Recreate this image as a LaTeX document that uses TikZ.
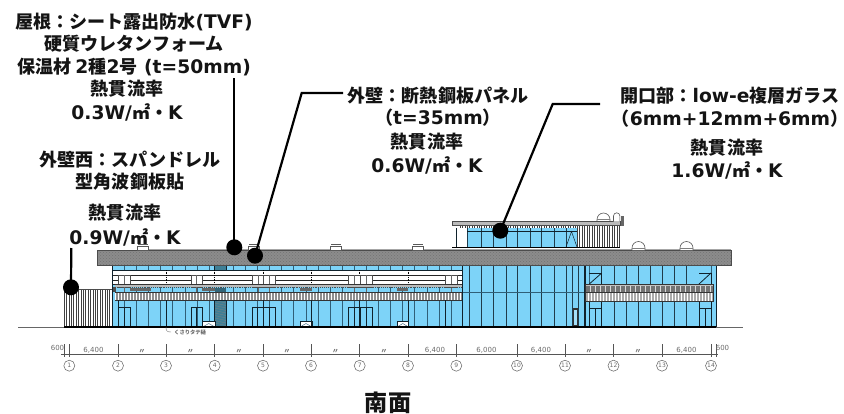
\documentclass[tikz,border=0pt]{standalone}
\usepackage{fontspec}
\usetikzlibrary{patterns}
\setmainfont{DejaVu Sans}
\newfontfamily\cjk[Scale=0.965]{Noto Sans CJK JP}
\newcommand{\J}[1]{{\cjk\bfseries #1}}
\newcommand{\Jcolon}{\char"FF1A\relax}
\newcommand{\Jlp}{\char"FF08\relax}
\newcommand{\Jrp}{\char"FF09\relax}
\definecolor{glass}{HTML}{7DD3F8}
\definecolor{roofgray}{HTML}{8C8C8C}
\definecolor{teal}{HTML}{3E7F96}
\definecolor{frame}{HTML}{10222C}
\definecolor{thinm}{HTML}{2F5F78}
\definecolor{railgray}{HTML}{8E8E8E}
\definecolor{dimgray}{HTML}{6A6A6A}
\tikzset{
 x=1pt,y=-1pt,
 lab/.style={font=\fontsize{18.7}{20}\selectfont\bfseries,inner sep=0pt,anchor=center,text=black!92},
 dotn/.style={circle,fill=black,draw=none,minimum size=16pt,inner sep=0pt},
 leader/.style={line width=2.2pt,black},
 mull/.style={line width=.7pt,thinm},
 heavy/.style={line width=1pt,frame},
 hatchl/.style={line width=.45pt,black!75},
 dimt/.style={font=\fontsize{7}{8}\selectfont,text=dimgray,inner sep=0pt},
 gridc/.style={circle,draw=dimgray,line width=.55pt,minimum size=11pt,inner sep=0pt,font=\fontsize{6}{7}\selectfont,text=dimgray},
 dimline/.style={line width=.6pt,dimgray!80!black},
}
\begin{document}
\begin{tikzpicture}
\useasboundingbox (0,0) rectangle (844,413);
% ground
\draw[line width=.6pt,black!60] (18,327.3) -- (743,327.3);
% west hatched wall
\fill[white] (64,289.5) rectangle (112,327);
\draw[line width=.5pt,black!70] (64,289.5) -- (112,289.5);
\foreach \x in {64,66.4,...,112} \draw[hatchl] (\x,289.5) -- (\x,327);
% main body glass
\fill[glass] (112.3,265) rectangle (716,327);
% left section upper white zone
\fill[white] (112.3,270) rectangle (462,285);
\foreach \y in {270,275,280,284.5} \draw[line width=.6pt,black!85] (112.3,\y) -- (462,\y);
\foreach \x in {112.3,124.4,...,462} \draw[mull] (\x,265) -- (\x,270);
\foreach \x in {112.3,124.4,...,462} \draw[mull] (\x,287) -- (\x,292);
\foreach \x in {112.3,124.4,...,462} \draw[mull] (\x,300) -- (\x,327);
\draw[heavy] (112.3,265.6) -- (462,265.6);
\draw[heavy] (112.3,270) -- (462,270);
\fill[teal] (214.7,265) rectangle (226,270);
\draw[line width=.5pt,frame] (214.7,265) rectangle (226,270);
\foreach \x in {166,214.7,263,311,359.7,408} \draw[line width=.7pt,black,densely dotted] (\x,270) -- (\x,285);
% windows in upper zone
\foreach \a/\b in {118/130,191/202,252/263.5,263.5/275,348/360,360/372,445/457}{
  \fill[white] (\a,275) rectangle (\b,287);
  \draw[line width=.5pt,black!70] (\a,275) rectangle (\b,287);
  \draw[line width=.4pt,black!60] ({(\a+\b)/2},275) -- ({(\a+\b)/2},292);
}
% left balcony
\fill[railgray!60] (115,284.5) rectangle (462,287);
\draw[line width=.5pt,black!80] (115,284.5) -- (462,284.5);
\draw[line width=.9pt,black!70,densely dotted] (115,287) -- (462,287);
\foreach \a/\b in {130/151,202/215,300/312,397/408}{\fill[black!60] (\a,288) rectangle (\b,291);}
\fill[teal!80!black] (214.7,288) rectangle (226,292);
\fill[black!70] (112.3,287) rectangle (116,292);
\fill[railgray] (115,292) rectangle (462,300);
\foreach \x in {115,118,...,462} \draw[line width=.45pt,white] (\x,292.5) -- (\x,299.5);
\draw[line width=.6pt,black!80] (115,292) -- (462,292);
\draw[line width=.7pt,black!80] (115,300) -- (462,300);
% teal panel
\fill[teal] (214.7,300.2) rectangle (226,327);
\foreach \k in {0,2.5,...,25} \draw[line width=.35pt,black!50] (214.7,300.5+\k) -- (226,303+\k);
\draw[line width=.6pt,frame] (214.7,300) rectangle (226,327);
% doors left
\foreach \a/\b in {118/130,191/202,252/263.5,263.5/275,348/360,360/372}{
  \draw[line width=.9pt,frame] (\a,307) -- (\b,307);
  \draw[line width=.9pt,frame] (\a,307) -- (\a,327);
  \draw[line width=.9pt,frame] (\b,307) -- (\b,327);
  \draw[line width=.9pt,frame] ({(\a+\b)/2},307) -- ({(\a+\b)/2},327);
}
% low openings
\foreach \a/\b in {202.5/215,300/312,397/408.5,469/481,554/566}{
  \fill[white] (\a,321.5) rectangle (\b,327);
  \draw[line width=.9pt,frame] (\a,327) -- (\a,321.5) -- (\b,321.5) -- (\b,327);
  \draw[line width=.4pt,thinm] (\a,327) -- ({(\a+\b)/2},323.5) -- (\b,327);
}
\foreach \x in {112.3,118,166,226,263,311,359.7,408,445} \draw[line width=.9pt,frame] (\x,300) -- (\x,327);
\draw[line width=.9pt,frame] (112.3,265) -- (112.3,327);
% central section
\fill[glass] (462,265) rectangle (585,327);
\foreach \x in {469,481,493.3,506,517.7,530,541.7,554,566,572.7,578.3}{ \draw[line width=.8pt,frame!85!glass] (\x,265) -- (\x,327);}
\draw[line width=.5pt,thinm] (462,292.5) -- (585,292.5);
\draw[line width=1.1pt,frame] (462.3,265) -- (462.3,327);
\draw[line width=1.1pt,frame] (585,265) -- (585,327);
\fill[black!80] (573,308) rectangle (578,327);
\fill[glass!70] (574.3,310) rectangle (576.5,325);
% right section
\foreach \x in {601.7,614.3,626.7,638.3,650.7,662.7,674.3,686.7} \draw[line width=.8pt,frame!85!glass] (\x,265) -- (\x,327);
\draw[mull] (589.3,265) -- (589.3,327);
\draw[mull] (711,265) -- (711,327);
\foreach \a/\b in {589.3/601.7,699/711}{
  \draw[line width=.8pt,frame] (\a,273) -- (\b,273);
  \draw[line width=.8pt,frame] (\b,273) -- (\b,284);
  \draw[line width=.8pt,frame] (\a,284) -- (\b,273);
  \draw[line width=.8pt,frame] (\a,308) -- (\b,308);
  \draw[line width=.8pt,frame] (\a,300) -- (\a,327);
  \draw[line width=.8pt,frame] (\b,300) -- (\b,327);
  \draw[line width=.8pt,frame] ({(\a+\b)/2},308) -- ({(\a+\b)/2},327);
}
% right balcony
\fill[railgray!55] (585,284) rectangle (713,286);
\fill[black!55] (585,286) rectangle (713,292);
\foreach \x in {585,590,...,713} \draw[line width=.5pt,white!70!gray] (\x,286) -- (\x,292);
\fill[railgray!75] (585,292) rectangle (713,301.5);
\foreach \x in {585,588,...,713} \draw[line width=.45pt,white] (\x,292.5) -- (\x,301);
\draw[line width=.6pt,black!80] (585,284) rectangle (713,301.5);
\draw[line width=.6pt,black!80] (585,292) -- (713,292);
\draw[line width=1pt,frame] (716,265) -- (716,327);
% building base
\draw[line width=1.1pt,black] (64,327) -- (716,327);
% roof slab
\fill[roofgray] (97.3,250.7) rectangle (731.7,265.3);
\fill[pattern=crosshatch dots,pattern color=black!55] (97.3,250.7) rectangle (731.7,265.3);
\draw[line width=.6pt,black!70] (97.3,250.7) rectangle (731.7,265.3);
\draw[line width=.5pt,black!35] (137,249.5) -- (731,249.5);
% roof vents
\foreach \a in {137,248,330,412}{
  \fill[white] (\a,244.5) rectangle (\a+11.5,250);
  \draw[line width=.5pt,black!65] (\a,246) rectangle (\a+11.5,250);
  \draw[line width=.5pt,black!65] (\a+1,244.5) -- (\a+10.5,244.5);
}
% domes
\foreach \a/\yy in {632/250,680/250,597/221.5}{
  \draw[line width=.6pt,black!65,fill=white] (\a,\yy) -- (\a,\yy-2) arc[start angle=180,end angle=360,radius=6.5] -- (\a+13,\yy);
  \draw[line width=.4pt,black!50] (\a,\yy-2) -- (\a+13,\yy-2);
}
% penthouse
\fill[white] (456,225) rectangle (620,247);
\fill[glass] (467,228) rectangle (577,247);
\foreach \x in {467,481,493.3,506,517.7,530,541.7,554,566,577} \draw[line width=.8pt,frame!85!glass] (\x,228) -- (\x,247);
\draw[line width=.6pt,frame] (467,231.5) -- (577,231.5);
\draw[line width=.5pt,frame] (456,228) -- (456,247);
\draw[line width=.5pt,frame] (566,247) -- (571.5,231.5) -- (577,247);
\foreach \x in {460,462.4,...,577} \draw[line width=.5pt,black!75] (\x,225) -- (\x,228);
\foreach \x in {577,579.5,...,620} \draw[hatchl] (\x,225) -- (\x,247);
\fill[railgray!60] (452,221.7) rectangle (620,225);
\draw[line width=.5pt,black!70] (452,221.7) rectangle (620,225);
\draw[line width=1.1pt,black] (452,247.5) -- (620,247.5);
% chimney
\draw[line width=.6pt,black!65,fill=white] (613.5,221.7) -- (613.5,216) arc[start angle=180,end angle=360,radius=3.2] -- (619.9,221.7);
\fill[black!60] (620.5,216) rectangle (624,226);
% drain note
\draw[line width=.4pt,dimgray] (166,327) .. controls (166,331) and (167,332) .. (171,332);
\node[dimt,anchor=west] (drain) at (174,332) {\J{\fontsize{5.5}{6}\selectfont くさりタテ樋}};
% dimension row
\draw[dimline] (61,354.7) -- (718,354.7);
\foreach \n/\x in {1/69.3,2/118,3/166,4/214.7,5/263,6/311,7/359.7,8/408,9/456.3,10/517,11/565,12/613.5,13/662,14/711}{
  \draw[dimline] (\x,344) -- (\x,357);
  \node[gridc] (g\n) at (\x,365.7) {\n};
}
\draw[dimline] (64.5,344) -- (64.5,357);
\draw[dimline] (716,344) -- (716,357);
\node[dimt] (d0) at (57.5,348) {600};
\node[dimt] (d1) at (93.5,350) {6,400};
\foreach \x/\m in {142/a,190.5/b,239/c,287/d,335.5/e,384/f,589/g,638/h}{\node[dimt] (dd\m) at (\x,351) {\J{〃}};}
\node[dimt] (d8) at (435,350) {6,400};
\node[dimt] (d9) at (486.5,350) {6,000};
\node[dimt] (d10) at (541,350) {6,400};
\node[dimt] (d13) at (686.5,350) {6,400};
\node[dimt] (d14) at (722.5,348) {600};
% labels
\node[lab] (a1) at (134,22) {\J{屋根\Jcolon シート露出防水}(TVF)};
\node[lab] (a2) at (134,44) {\J{硬質ウレタンフォーム}};
\node[lab] (a3) at (134,67) {\J{保温材 }2\J{種}2\J{号} (t=50mm)};
\node[lab] (a4) at (127,89) {\J{熱貫流率}};
\node[lab] (a5) at (127,112) {0.3W/\J{㎡・}K};
\node[lab] (b1) at (438,96) {\J{外壁\Jcolon 断熱鋼板パネル}};
\node[lab] (b2) at (438,118) {\J{\Jlp}t=35mm\J{\Jrp}};
\node[lab] (b3) at (427,142) {\J{熱貫流率}};
\node[lab] (b4) at (427,165) {0.6W/\J{㎡・}K};
\node[lab] (c1) at (730,96) {\J{開口部\Jcolon}low-e\J{複層ガラス}};
\node[lab] (c2) at (730,119) {\kern-.45em\J{\Jlp}6mm+12mm+6mm\J{\Jrp}\kern-.45em};
\node[lab] (c3) at (727,148) {\J{熱貫流率}};
\node[lab] (c4) at (727,170) {1.6W/\J{㎡・}K};
\node[lab] (e1) at (130,160) {\J{外壁西\Jcolon スパンドレル}};
\node[lab] (e2) at (130,182) {\J{型角波鋼板貼}};
\node[lab] (e3) at (125,213) {\J{熱貫流率}};
\node[lab] (e4) at (125,237) {0.9W/\J{㎡・}K};
\node[lab,font=\fontsize{24}{25}\selectfont\bfseries] (title) at (388,403) {\J{南面}};
% connectors
\node[dotn] (p1) at (234.3,247.3) {};
\node[dotn] (p2) at (255,255.7) {};
\node[dotn] (p3) at (71,287.3) {};
\node[dotn] (p4) at (500.3,230.7) {};
\coordinate (q1) at (234.3,78);
\coordinate (q2a) at (301.7,93);
\coordinate (q2b) at (343,93);
\coordinate (q3) at (71.3,248);
\coordinate (q4a) at (552.7,104);
\coordinate (q4b) at (600,104);
\draw[leader] (q1) -- (p1.center);
\draw[leader,line join=miter] (p2.center) -- (q2a) -- (q2b);
\draw[leader] (q3) -- (p3.center);
\draw[leader,line join=miter] (p4.center) -- (q4a) -- (q4b);
\end{tikzpicture}
\end{document}
